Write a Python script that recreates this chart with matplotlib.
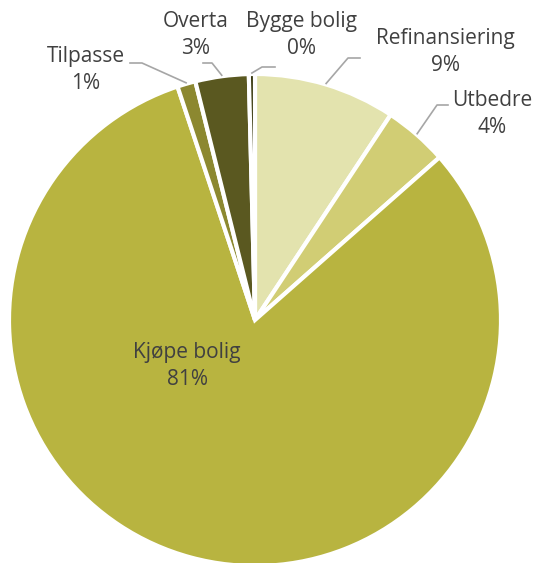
import matplotlib.pyplot as plt
import numpy as np

# Données
categories = ["Refinansiering", "Utbedre", "Kjøpe bolig", "Tilpasse", "Overta", "Bygge bolig"]
shares = [9.3, 4.2, 81.4, 1.2, 3.5, 0.4]
pct_labels = ["9%", "4%", "81%", "1%", "3%", "0%"]
colors = ["#E3E3AE", "#D1CD74", "#B8B440", "#8C8830", "#5A5820", "#3A3A10"]

W, H = 535, 563


def main():
    plt.rcParams["font.family"] = ["Open Sans", "DejaVu Sans"]
    fig = plt.figure(figsize=(W / 100, H / 100), dpi=100)
    ax = fig.add_axes([0, 0, 1, 1])

    cx, cy, r = 255, H - 320, 246
    wedges, _ = ax.pie(
        shares,
        colors=colors,
        startangle=90,
        counterclock=False,
        center=(cx, cy),
        radius=r,
        frame=True,
        wedgeprops=dict(edgecolor="white", linewidth=3),
    )
    ax.set_xlim(0, W)
    ax.set_ylim(0, H)
    ax.set_aspect("equal")
    ax.axis("off")

    # position du texte (pixels depuis le haut) et départ des lignes de rappel
    text_pos = {
        "Refinansiering": (445, 52),
        "Utbedre": (492, 114),
        "Kjøpe bolig": (187, 366),
        "Tilpasse": (86, 70),
        "Overta": (196, 35),
        "Bygge bolig": (302, 35),
    }
    leader = {
        "Refinansiering": [(360, 58), (348, 58)],
        "Utbedre": [(448, 105), (437, 105)],
        "Tilpasse": [(130, 63), (142, 63)],
        "Overta": [(203, 63), (212, 63)],
        "Bygge bolig": [(275, 67), (262, 67)],
    }

    for w, cat, lab in zip(wedges, categories, pct_labels):
        tx, ty = text_pos[cat]
        ax.text(tx, H - ty, f"{cat}\n{lab}", ha="center", va="center",
                fontsize=15, color="#404040", linespacing=1.35)
        if cat in leader:
            ang = np.deg2rad((w.theta1 + w.theta2) / 2)
            ex, ey = cx + (r + 1) * np.cos(ang), cy + (r + 1) * np.sin(ang)
            pts = leader[cat]
            xs = [p[0] for p in pts] + [ex]
            ys = [H - p[1] for p in pts] + [ey]
            ax.plot(xs, ys, color="#A6A6A6", linewidth=1.2)

    fig.savefig("out.png", dpi=100)
    plt.close(fig)


if __name__ == "__main__":
    main()
